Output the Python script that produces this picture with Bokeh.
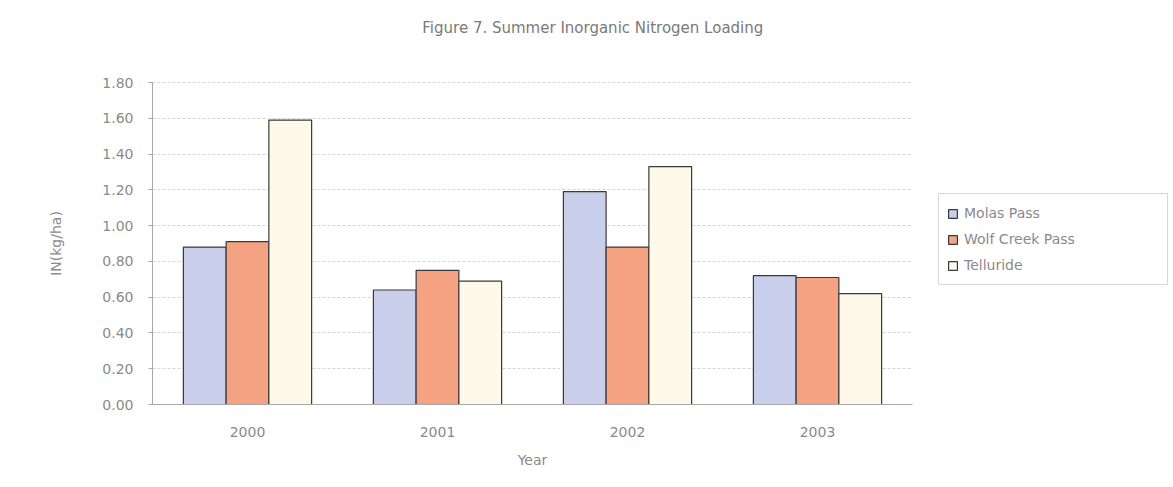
import math
from bokeh.plotting import figure
from bokeh.layouts import row
from bokeh.models import (ColumnDataSource, FactorRange, Range1d, Legend, LegendItem,
                          NumeralTickFormatter, FixedTicker, Label)
from bokeh.transform import dodge
from bokeh.embed import file_html
from bokeh.resources import INLINE

years = ["2000", "2001", "2002", "2003"]
molas_pass = [0.88, 0.64, 1.19, 0.72]
wolf_creek_pass = [0.91, 0.75, 0.88, 0.71]
telluride = [1.59, 0.69, 1.33, 0.62]
y_ticks = [0.0, 0.2, 0.4, 0.6, 0.8, 1.0, 1.2, 1.4, 1.6, 1.8]
y_max = 1.8

series = [
    ("Molas Pass", "molas", molas_pass, "#c9cfea", -0.225),
    ("Wolf Creek Pass", "wolf", wolf_creek_pass, "#f5a283", 0.0),
    ("Telluride", "tell", telluride, "#fef9e8", 0.225),
]

source = ColumnDataSource(dict(years=years, molas=molas_pass, wolf=wolf_creek_pass, tell=telluride))

FONT = "DejaVu Sans"
GREY = "#8a8a8a"
BAR_LINE = "#3a3a3a"

# pixel layout: the value axis spans 322 px, with 82 px of headroom above it for the title
AXIS_PX = 322
HEAD_PX = 82
y_top = y_max * (AXIS_PX + HEAD_PX) / AXIS_PX
LABEL_COL = 80  # width of the column that carries the value-axis title

# Value-axis title column
yl = figure(
    width=LABEL_COL, height=487,
    x_range=Range1d(0, LABEL_COL), y_range=Range1d(0, y_top),
    output_backend="svg", toolbar_location=None,
    min_border=0, min_border_bottom=83,
)
yl.axis.visible = False
yl.grid.visible = False
yl.outline_line_color = None
yl.add_layout(Label(
    x=55, y=y_max / 2, text="IN(kg/ha)", angle=math.pi / 2,
    text_align="center", text_baseline="middle",
    text_font=FONT, text_font_size="14px", text_color=GREY,
))

# Main chart: clustered bars per year
p = figure(
    width=930 - LABEL_COL, height=487,
    x_range=FactorRange(*years), y_range=Range1d(0, y_top),
    output_backend="svg", toolbar_location=None,
    min_border_left=152 - LABEL_COL, min_border_right=18, min_border_top=0, min_border_bottom=83,
)

for label, col, vals, color, off in series:
    p.vbar(x=dodge("years", off, range=p.x_range), top=col, width=0.225, source=source,
           fill_color=color, line_color=BAR_LINE, line_width=1.2)

p.add_layout(Label(
    x=2.33, y=y_max + (y_top - y_max) * 0.66,
    text="Figure 7.  Summer Inorganic Nitrogen Loading",
    text_align="center", text_baseline="middle",
    text_font=FONT, text_font_size="15px", text_color="#7a7a7a",
))

p.outline_line_color = None
p.background_fill_color = "white"
p.border_fill_color = "white"

p.xgrid.grid_line_color = None
p.ygrid.grid_line_color = "#d4d4d4"
p.ygrid.grid_line_dash = "3 2"
p.ygrid.grid_line_width = 1
p.ygrid.ticker = FixedTicker(ticks=y_ticks)

p.yaxis.ticker = FixedTicker(ticks=y_ticks)
p.yaxis.bounds = (0, y_max)
p.yaxis.formatter = NumeralTickFormatter(format="0.00")
p.xaxis.axis_label = "Year"
for ax in (p.xaxis, p.yaxis):
    ax.axis_line_color = "#a8a8a8"
    ax.major_tick_line_color = "#a8a8a8"
    ax.minor_tick_line_color = None
    ax.major_label_text_font = FONT
    ax.major_label_text_font_size = "14px"
    ax.major_label_text_color = GREY
    ax.axis_label_text_font = FONT
    ax.axis_label_text_font_size = "14px"
    ax.axis_label_text_font_style = "normal"
    ax.axis_label_text_color = GREY
p.xaxis.major_tick_line_color = None
p.xaxis.major_label_standoff = 16
p.xaxis.axis_label_standoff = 12
p.yaxis.major_tick_out = 4
p.yaxis.major_tick_in = 0
p.yaxis.major_label_standoff = 15

# Legend panel beside the chart; its renderers are hidden so only the key is drawn
lg = figure(
    width=243, height=487,
    x_range=FactorRange(*years), y_range=Range1d(0, y_top),
    output_backend="svg", toolbar_location=None,
    min_border=0, min_border_bottom=83,
)
lg.axis.visible = False
lg.grid.visible = False
lg.outline_line_color = None

items = []
for label, col, vals, color, off in series:
    r = lg.vbar(x=dodge("years", off, range=lg.x_range), top=col, width=0.225, source=source,
                fill_color=color, line_color=BAR_LINE, line_width=1.2)
    r.visible = False
    items.append(LegendItem(label=label, renderers=[r]))

legend = Legend(items=items, location=(8, 119))
legend.click_policy = "none"
legend.border_line_color = "#b0b0b0"
legend.border_line_width = 1
legend.background_fill_color = "white"
legend.label_text_font = FONT
legend.label_text_font_size = "14px"
legend.label_text_color = GREY
legend.glyph_width = 11
legend.glyph_height = 11
legend.spacing = 4
legend.padding = 8
legend.margin = 0
legend.label_standoff = 6
legend.label_height = 22
legend.label_width = 195
lg.add_layout(legend, "center")

open("out.html", "w").write(file_html(row(yl, p, lg), INLINE))
